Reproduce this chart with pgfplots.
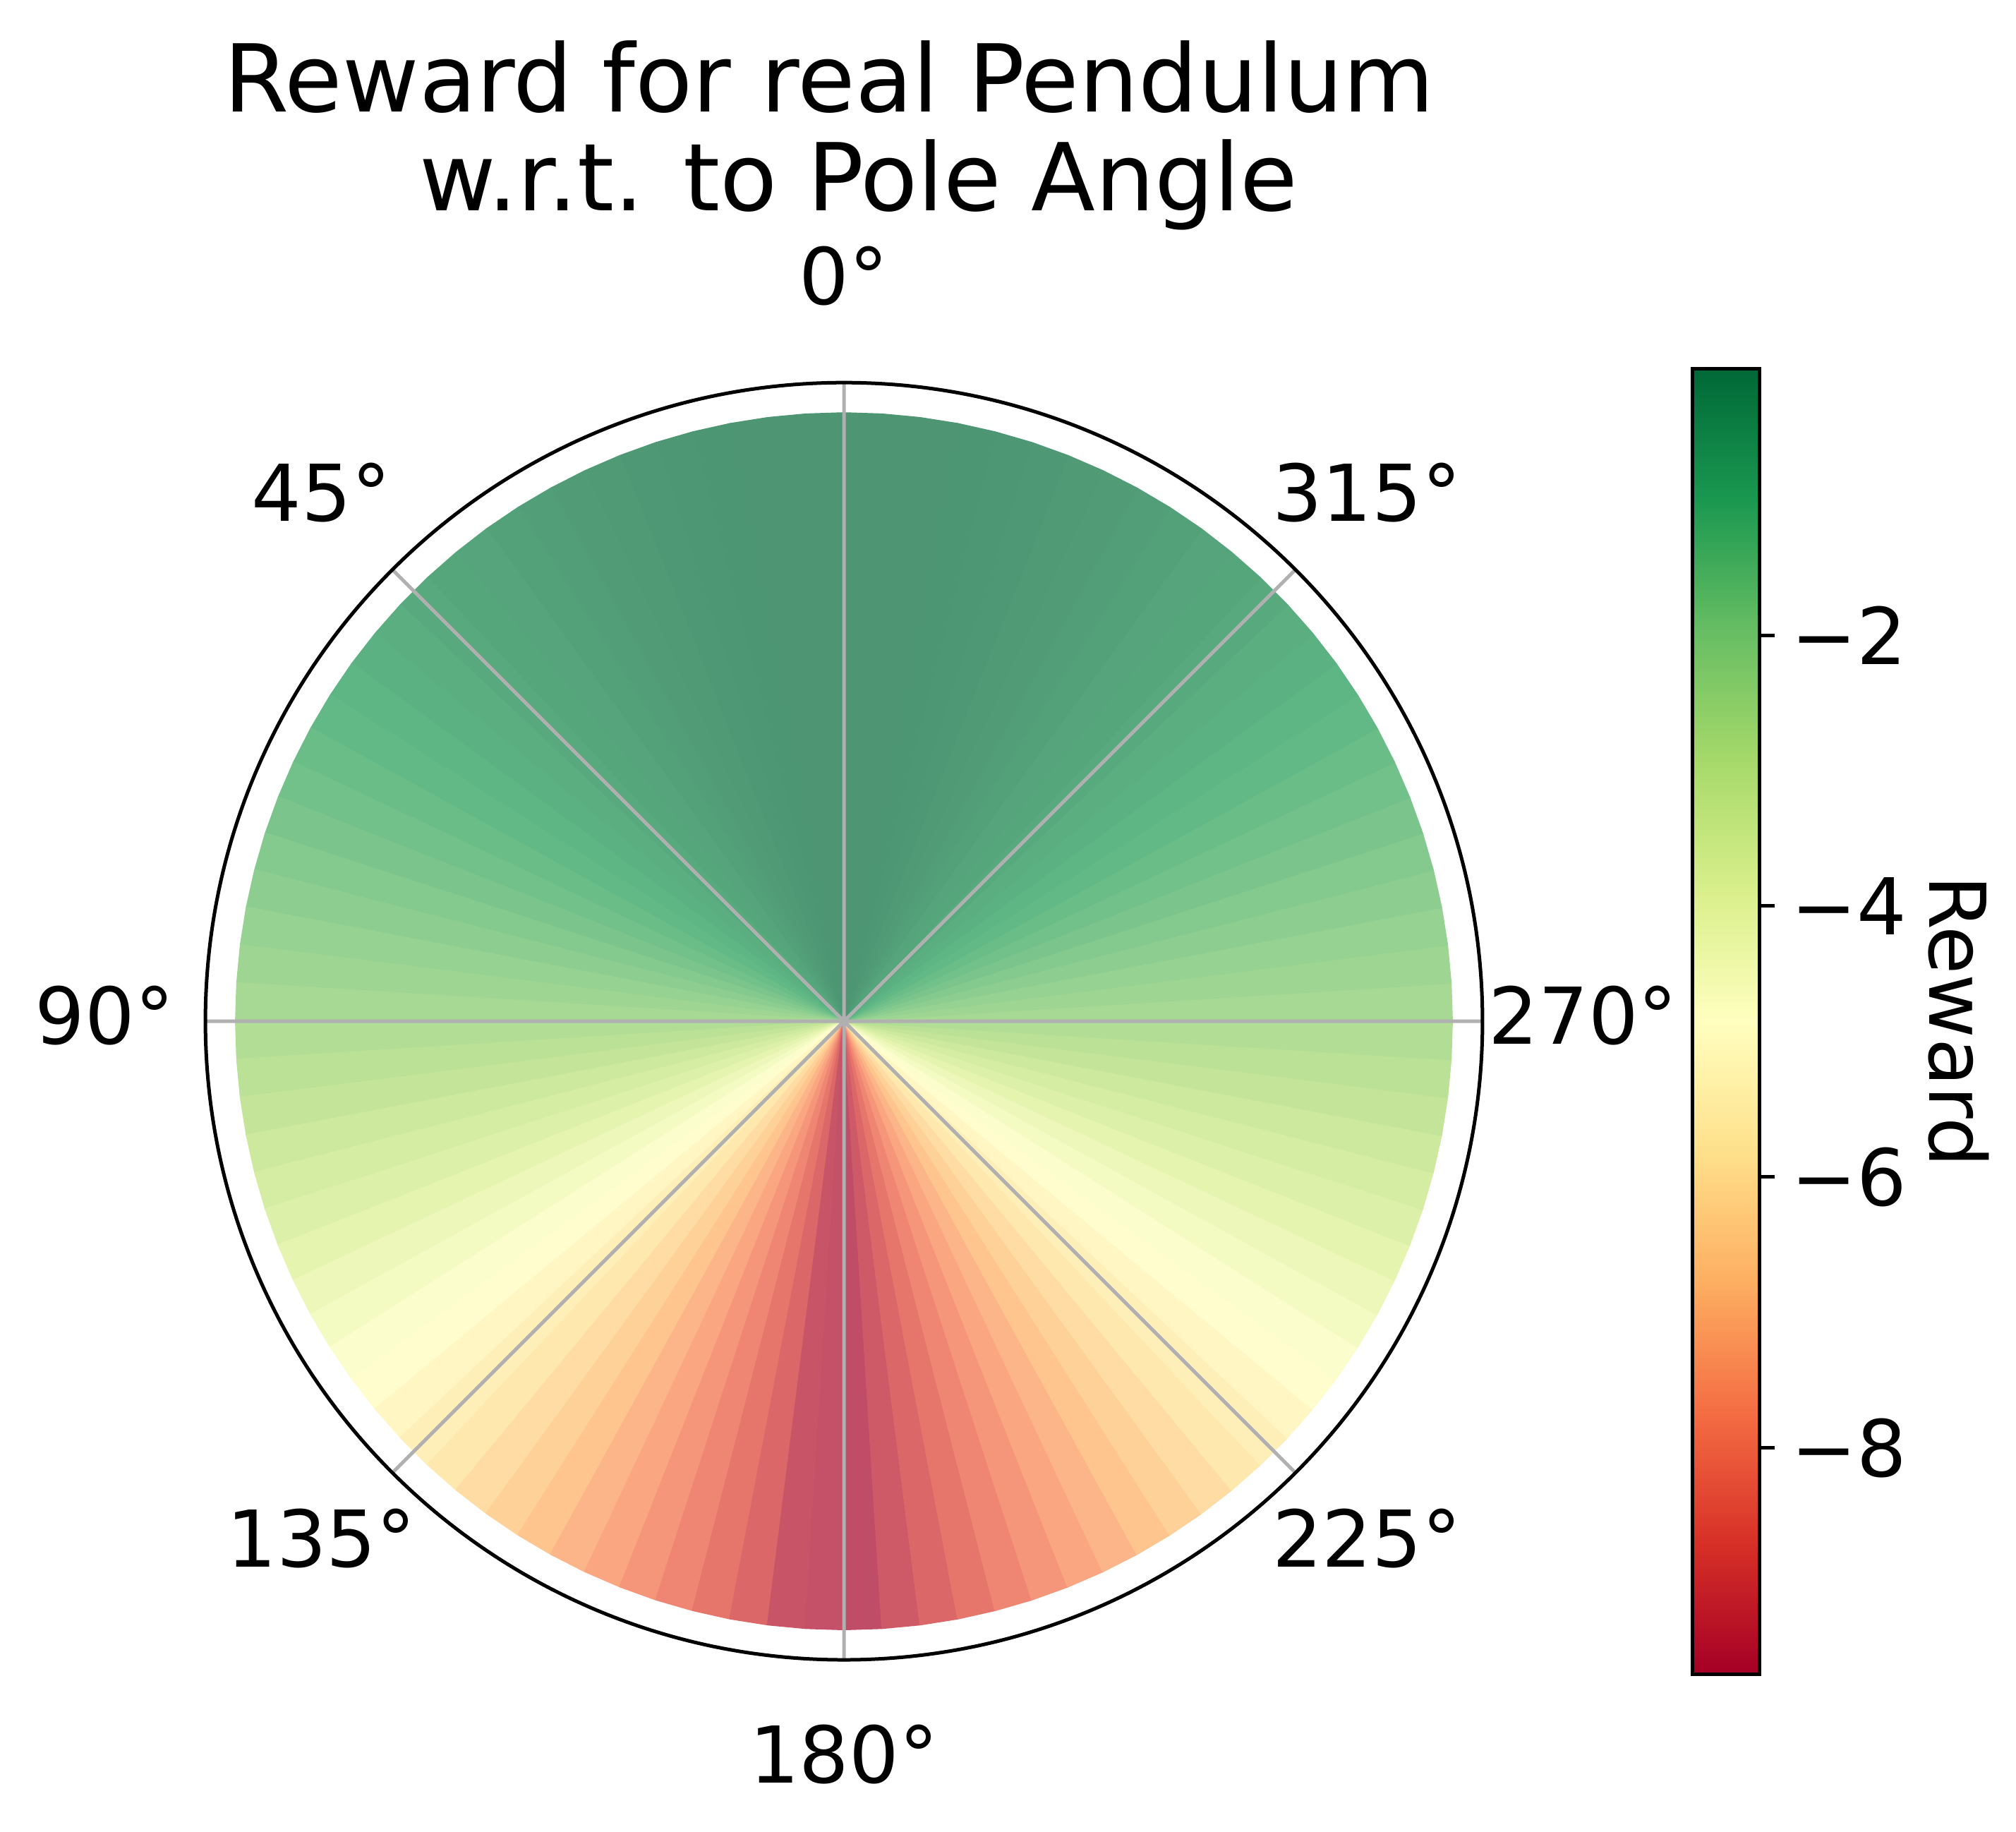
\documentclass[border=0pt]{standalone}
\usepackage{fontspec}
\setmainfont{DejaVu Sans}
\usepackage{pgfplots}
\pgfplotsset{compat=1.18}
\usepgfplotslibrary{polar}
\usepackage{pgfplotstable}

\definecolor{gridgray}{RGB}{176,176,176}

% RdYlGn, and the same map faded to 70% over white for the wedges
\pgfplotsset{
  colormap={RdYlGnFade}{rgb255=(192,77,103) rgb255=(227,110,104) rgb255=(247,153,123)
    rgb255=(254,198,144) rgb255=(254,233,174) rgb255=(255,255,210) rgb255=(228,244,174)
    rgb255=(193,228,151) rgb255=(148,209,146) rgb255=(95,183,133) rgb255=(77,149,115)},
  colormap={RdYlGn}{rgb255=(165,0,38) rgb255=(215,48,39) rgb255=(244,109,67)
    rgb255=(253,174,97) rgb255=(254,224,139) rgb255=(255,255,191) rgb255=(217,239,139)
    rgb255=(166,217,106) rgb255=(102,189,99) rgb255=(26,152,80) rgb255=(0,104,55)},
}
\newcommand\tickfont{\fontsize{20bp}{24bp}\selectfont}

% one wedge per line: centre, two rim points (plot angle = pole angle + 90), reward
\pgfplotstableread[row sep=\\]{
a r c \\
0 0 -0.03 \\ 90 1 -0.03 \\ 93.6 1 -0.03 \\
0 0 -0.01 \\ 93.6 1 -0.01 \\ 97.2 1 -0.01 \\
0 0 -0.02 \\ 97.2 1 -0.02 \\ 100.8 1 -0.02 \\
0 0 -0.05 \\ 100.8 1 -0.05 \\ 104.4 1 -0.05 \\
0 0 -0.08 \\ 104.4 1 -0.08 \\ 108 1 -0.08 \\
0 0 -0.12 \\ 108 1 -0.12 \\ 111.6 1 -0.12 \\
0 0 -0.17 \\ 111.6 1 -0.17 \\ 115.2 1 -0.17 \\
0 0 -0.22 \\ 115.2 1 -0.22 \\ 118.8 1 -0.22 \\
0 0 -0.29 \\ 118.8 1 -0.29 \\ 122.4 1 -0.29 \\
0 0 -0.36 \\ 122.4 1 -0.36 \\ 126 1 -0.36 \\
0 0 -0.44 \\ 126 1 -0.44 \\ 129.6 1 -0.44 \\
0 0 -0.52 \\ 129.6 1 -0.52 \\ 133.2 1 -0.52 \\
0 0 -0.62 \\ 133.2 1 -0.62 \\ 136.8 1 -0.62 \\
0 0 -0.72 \\ 136.8 1 -0.72 \\ 140.4 1 -0.72 \\
0 0 -0.83 \\ 140.4 1 -0.83 \\ 144 1 -0.83 \\
0 0 -0.95 \\ 144 1 -0.95 \\ 147.6 1 -0.95 \\
0 0 -1.07 \\ 147.6 1 -1.07 \\ 151.2 1 -1.07 \\
0 0 -1.21 \\ 151.2 1 -1.21 \\ 154.8 1 -1.21 \\
0 0 -1.35 \\ 154.8 1 -1.35 \\ 158.4 1 -1.35 \\
0 0 -1.50 \\ 158.4 1 -1.50 \\ 162 1 -1.50 \\
0 0 -1.66 \\ 162 1 -1.66 \\ 165.6 1 -1.66 \\
0 0 -1.82 \\ 165.6 1 -1.82 \\ 169.2 1 -1.82 \\
0 0 -2.00 \\ 169.2 1 -2.00 \\ 172.8 1 -2.00 \\
0 0 -2.18 \\ 172.8 1 -2.18 \\ 176.4 1 -2.18 \\
0 0 -2.37 \\ 176.4 1 -2.37 \\ 180 1 -2.37 \\
0 0 -2.57 \\ 180 1 -2.57 \\ 183.6 1 -2.57 \\
0 0 -2.77 \\ 183.6 1 -2.77 \\ 187.2 1 -2.77 \\
0 0 -2.99 \\ 187.2 1 -2.99 \\ 190.8 1 -2.99 \\
0 0 -3.21 \\ 190.8 1 -3.21 \\ 194.4 1 -3.21 \\
0 0 -3.44 \\ 194.4 1 -3.44 \\ 198 1 -3.44 \\
0 0 -3.67 \\ 198 1 -3.67 \\ 201.6 1 -3.67 \\
0 0 -3.92 \\ 201.6 1 -3.92 \\ 205.2 1 -3.92 \\
0 0 -4.17 \\ 205.2 1 -4.17 \\ 208.8 1 -4.17 \\
0 0 -4.43 \\ 208.8 1 -4.43 \\ 212.4 1 -4.43 \\
0 0 -4.70 \\ 212.4 1 -4.70 \\ 216 1 -4.70 \\
0 0 -4.98 \\ 216 1 -4.98 \\ 219.6 1 -4.98 \\
0 0 -5.26 \\ 219.6 1 -5.26 \\ 223.2 1 -5.26 \\
0 0 -5.55 \\ 223.2 1 -5.55 \\ 226.8 1 -5.55 \\
0 0 -5.85 \\ 226.8 1 -5.85 \\ 230.4 1 -5.85 \\
0 0 -6.16 \\ 230.4 1 -6.16 \\ 234 1 -6.16 \\
0 0 -6.48 \\ 234 1 -6.48 \\ 237.6 1 -6.48 \\
0 0 -6.80 \\ 237.6 1 -6.80 \\ 241.2 1 -6.80 \\
0 0 -7.13 \\ 241.2 1 -7.13 \\ 244.8 1 -7.13 \\
0 0 -7.47 \\ 244.8 1 -7.47 \\ 248.4 1 -7.47 \\
0 0 -7.82 \\ 248.4 1 -7.82 \\ 252 1 -7.82 \\
0 0 -8.17 \\ 252 1 -8.17 \\ 255.6 1 -8.17 \\
0 0 -8.54 \\ 255.6 1 -8.54 \\ 259.2 1 -8.54 \\
0 0 -8.91 \\ 259.2 1 -8.91 \\ 262.8 1 -8.91 \\
0 0 -9.45 \\ 262.8 1 -9.45 \\ 266.4 1 -9.45 \\
0 0 -9.55 \\ 266.4 1 -9.55 \\ 270 1 -9.55 \\
0 0 -9.67 \\ 270 1 -9.67 \\ 273.6 1 -9.67 \\
0 0 -9.29 \\ 273.6 1 -9.29 \\ 277.2 1 -9.29 \\
0 0 -8.91 \\ 277.2 1 -8.91 \\ 280.8 1 -8.91 \\
0 0 -8.54 \\ 280.8 1 -8.54 \\ 284.4 1 -8.54 \\
0 0 -8.17 \\ 284.4 1 -8.17 \\ 288 1 -8.17 \\
0 0 -7.82 \\ 288 1 -7.82 \\ 291.6 1 -7.82 \\
0 0 -7.47 \\ 291.6 1 -7.47 \\ 295.2 1 -7.47 \\
0 0 -7.13 \\ 295.2 1 -7.13 \\ 298.8 1 -7.13 \\
0 0 -6.80 \\ 298.8 1 -6.80 \\ 302.4 1 -6.80 \\
0 0 -6.48 \\ 302.4 1 -6.48 \\ 306 1 -6.48 \\
0 0 -6.16 \\ 306 1 -6.16 \\ 309.6 1 -6.16 \\
0 0 -5.85 \\ 309.6 1 -5.85 \\ 313.2 1 -5.85 \\
0 0 -5.55 \\ 313.2 1 -5.55 \\ 316.8 1 -5.55 \\
0 0 -5.26 \\ 316.8 1 -5.26 \\ 320.4 1 -5.26 \\
0 0 -4.98 \\ 320.4 1 -4.98 \\ 324 1 -4.98 \\
0 0 -4.70 \\ 324 1 -4.70 \\ 327.6 1 -4.70 \\
0 0 -4.43 \\ 327.6 1 -4.43 \\ 331.2 1 -4.43 \\
0 0 -4.17 \\ 331.2 1 -4.17 \\ 334.8 1 -4.17 \\
0 0 -3.92 \\ 334.8 1 -3.92 \\ 338.4 1 -3.92 \\
0 0 -3.67 \\ 338.4 1 -3.67 \\ 342 1 -3.67 \\
0 0 -3.44 \\ 342 1 -3.44 \\ 345.6 1 -3.44 \\
0 0 -3.21 \\ 345.6 1 -3.21 \\ 349.2 1 -3.21 \\
0 0 -2.99 \\ 349.2 1 -2.99 \\ 352.8 1 -2.99 \\
0 0 -2.77 \\ 352.8 1 -2.77 \\ 356.4 1 -2.77 \\
0 0 -2.57 \\ 356.4 1 -2.57 \\ 360 1 -2.57 \\
0 0 -2.37 \\ 0 1 -2.37 \\ 3.6 1 -2.37 \\
0 0 -2.18 \\ 3.6 1 -2.18 \\ 7.2 1 -2.18 \\
0 0 -2.00 \\ 7.2 1 -2.00 \\ 10.8 1 -2.00 \\
0 0 -1.82 \\ 10.8 1 -1.82 \\ 14.4 1 -1.82 \\
0 0 -1.66 \\ 14.4 1 -1.66 \\ 18 1 -1.66 \\
0 0 -1.50 \\ 18 1 -1.50 \\ 21.6 1 -1.50 \\
0 0 -1.35 \\ 21.6 1 -1.35 \\ 25.2 1 -1.35 \\
0 0 -1.21 \\ 25.2 1 -1.21 \\ 28.8 1 -1.21 \\
0 0 -1.07 \\ 28.8 1 -1.07 \\ 32.4 1 -1.07 \\
0 0 -0.95 \\ 32.4 1 -0.95 \\ 36 1 -0.95 \\
0 0 -0.83 \\ 36 1 -0.83 \\ 39.6 1 -0.83 \\
0 0 -0.72 \\ 39.6 1 -0.72 \\ 43.2 1 -0.72 \\
0 0 -0.62 \\ 43.2 1 -0.62 \\ 46.8 1 -0.62 \\
0 0 -0.52 \\ 46.8 1 -0.52 \\ 50.4 1 -0.52 \\
0 0 -0.44 \\ 50.4 1 -0.44 \\ 54 1 -0.44 \\
0 0 -0.36 \\ 54 1 -0.36 \\ 57.6 1 -0.36 \\
0 0 -0.29 \\ 57.6 1 -0.29 \\ 61.2 1 -0.29 \\
0 0 -0.22 \\ 61.2 1 -0.22 \\ 64.8 1 -0.22 \\
0 0 -0.17 \\ 64.8 1 -0.17 \\ 68.4 1 -0.17 \\
0 0 -0.12 \\ 68.4 1 -0.12 \\ 72 1 -0.12 \\
0 0 -0.08 \\ 72 1 -0.08 \\ 75.6 1 -0.08 \\
0 0 -0.05 \\ 75.6 1 -0.05 \\ 79.2 1 -0.05 \\
0 0 -0.02 \\ 79.2 1 -0.02 \\ 82.8 1 -0.02 \\
0 0 -0.01 \\ 82.8 1 -0.01 \\ 86.4 1 -0.01 \\
0 0 -0.03 \\ 86.4 1 -0.03 \\ 90 1 -0.03 \\
}\wedges

\begin{document}
\begin{tikzpicture}
\begin{polaraxis}[
  scale only axis, width=325.8bp, height=325.8bp,
  ymin=0, ymax=1.05, ytick=\empty,
  xtick={0,45,...,315},
  % plot angle = pole angle + 90, so 0 deg sits at the top
  xticklabels={270°,315°,0°,45°,90°,135°,180°,225°},
  xticklabel style={font=\tickfont, anchor=center,
    xshift={25.8*cos(\tick)}, yshift={25.8*sin(\tick)+1.5}},
  xtick style={draw=none},
  xmajorgrids=true,
  major grid style={gridgray, line width=0.9bp},
  axis line style={black, line width=0.9bp},
  y axis line style={draw=none},
  axis on top=true,
  colormap name=RdYlGn,
  point meta min=-9.67, point meta max=-0.03,
  title={Reward for real Pendulum\hspace*{0.318em}\\\hspace*{0.318em}w.r.t. to Pole Angle},
  title style={at={(0.5,1)}, anchor=south, inner sep=0pt, yshift=24.3bp,
    align=center, font=\fontsize{23.9bp}{25.3bp}\selectfont},
  colorbar,
  colorbar/width=17.1bp,
  colorbar style={
    at={(parent axis.east)}, anchor=west, xshift=45bp,
    scale only axis, width=17.1bp, height=333bp,
    xtick=\empty,
    ytick={-8,-6,-4,-2}, yticklabels={−8,−6,−4,−2},
    ytick pos=right, tick align=outside, major tick length=4bp,
    tick style={black, line width=0.9bp},
    yticklabel style={font=\tickfont, anchor=west, inner sep=0pt, xshift=3.9bp},
    axis line style={black, line width=0.9bp},
    ylabel={Reward},
    every axis y label/.style={at={(axis description cs:3.98,0.5)}, anchor=center,
      rotate=-90, font=\tickfont},
  },
]
\addplot[patch, shader=flat, colormap name=RdYlGnFade]
  table[x=a, y=r, point meta=\thisrow{c}] {\wedges};
\coordinate (C) at (axis cs:0,0);
\end{polaraxis}
\pgfresetboundingbox
\path (C) ++(-215.3bp,-206.8bp) rectangle ++(514.3bp,467.3bp);
\end{tikzpicture}
\end{document}
